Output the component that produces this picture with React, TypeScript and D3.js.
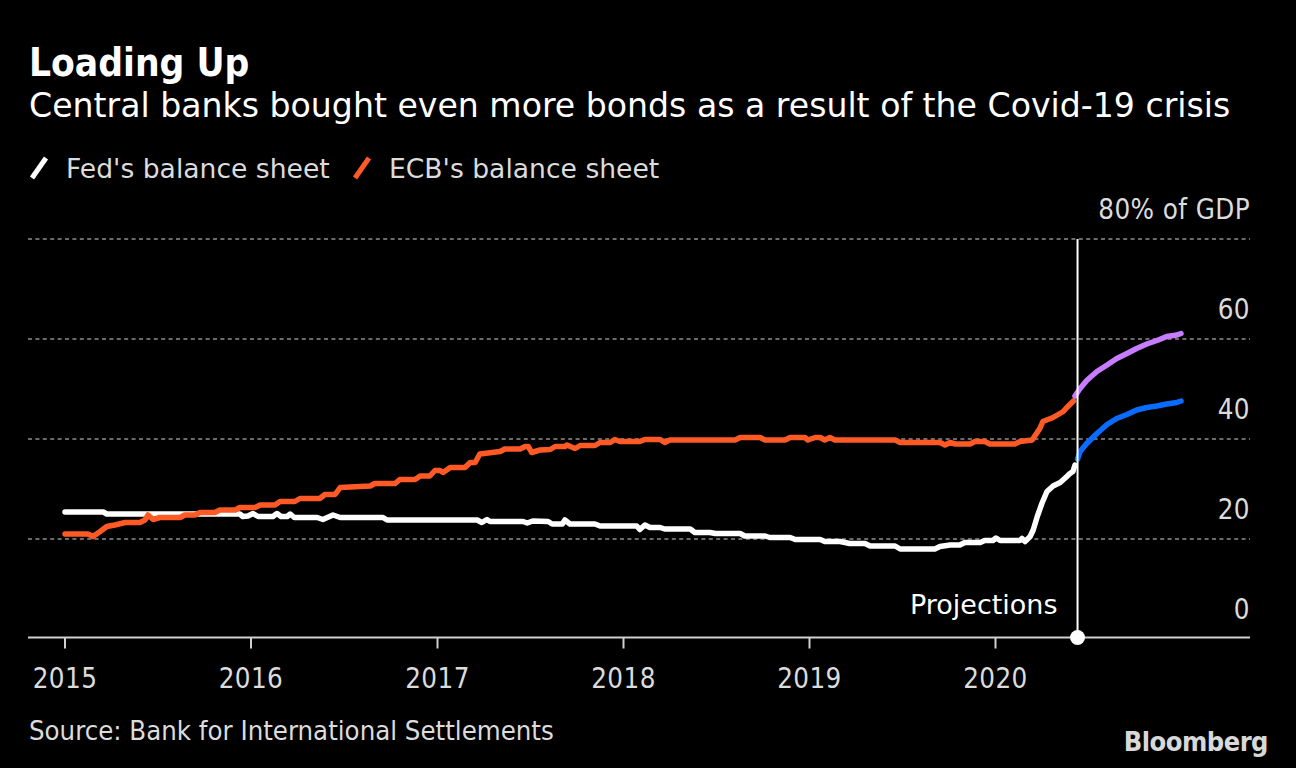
import React from "react";
import * as d3 from "d3";

const W = 1296;
const H = 768;

const titleText = "Loading Up";
const subtitleText = "Central banks bought even more bonds as a result of the Covid-19 crisis";
const sourceText = "Source: Bank for International Settlements";
const legendLabels = ["Fed's balance sheet", "ECB's balance sheet"];
const yTicks = [0, 20, 40, 60, 80];
const yTickLabels = ["0", "20", "40", "60", "80% of GDP"];
const xTickYears = ["2015", "2016", "2017", "2018", "2019", "2020"];
const projectionDate = "2020-06-10";

const fedDates = [
  "2015-01-01", "2015-03-17", "2015-03-24", "2015-12-10", "2015-12-16", "2015-12-26", "2016-01-05", "2016-01-15",
  "2016-02-13", "2016-02-21", "2016-02-29", "2016-03-12", "2016-03-18", "2016-03-26", "2016-05-10", "2016-05-21",
  "2016-06-10", "2016-06-24", "2016-09-16", "2016-09-24", "2017-03-20", "2017-03-29", "2017-04-08", "2017-04-14",
  "2017-06-18", "2017-06-26", "2017-07-07", "2017-08-06", "2017-08-14", "2017-09-03", "2017-09-08", "2017-09-18",
  "2017-11-06", "2017-11-16", "2018-01-27", "2018-02-02", "2018-02-12", "2018-02-22", "2018-03-14", "2018-03-23",
  "2018-05-12", "2018-05-21", "2018-06-20", "2018-06-30", "2018-08-18", "2018-08-27", "2018-10-06", "2018-10-15",
  "2018-11-24", "2018-12-04", "2019-01-22", "2019-01-31", "2019-03-02", "2019-03-21", "2019-04-20", "2019-04-30",
  "2019-06-18", "2019-06-28", "2019-09-04", "2019-09-14", "2019-10-04", "2019-10-23", "2019-11-02", "2019-12-02",
  "2019-12-11", "2019-12-27", "2020-01-02", "2020-01-10", "2020-02-18", "2020-02-22", "2020-02-28", "2020-03-09",
  "2020-03-15", "2020-03-23", "2020-04-01", "2020-04-11", "2020-04-23", "2020-05-07", "2020-05-20", "2020-05-26",
  "2020-06-01", "2020-06-05",
];
const fedValues = [
  25.4, 25.4, 25.0, 25.0, 24.5, 24.6, 25.1, 24.5,
  24.5, 25.1, 24.5, 24.5, 25.0, 24.3, 24.3, 23.9,
  24.8, 24.3, 24.3, 23.8, 23.8, 23.3, 23.9, 23.5,
  23.5, 23.2, 23.6, 23.5, 23.0, 23.0, 23.8, 23.0,
  23.0, 22.6, 22.6, 21.9, 22.8, 22.3, 22.3, 22.0,
  22.0, 21.3, 21.3, 21.1, 21.1, 20.6, 20.6, 20.3,
  20.3, 19.9, 19.9, 19.5, 19.5, 19.1, 19.1, 18.6,
  18.6, 18.0, 18.0, 18.5, 18.8, 18.8, 19.3, 19.3,
  19.7, 19.7, 20.2, 19.7, 19.7, 20.1, 19.5, 20.5,
  21.8, 24.5, 27.1, 29.5, 30.6, 31.3, 32.5, 33.1,
  33.5, 34.8,
];

const ecbDates = [
  "2015-01-01", "2015-02-15", "2015-02-25", "2015-03-11", "2015-03-24", "2015-04-09", "2015-04-29", "2015-05-28",
  "2015-06-07", "2015-06-13", "2015-06-23", "2015-07-06", "2015-08-15", "2015-08-24", "2015-09-13", "2015-09-23",
  "2015-10-22", "2015-11-01", "2015-12-01", "2015-12-10", "2016-01-09", "2016-01-19", "2016-02-17", "2016-02-27",
  "2016-03-27", "2016-04-06", "2016-05-15", "2016-05-25", "2016-06-14", "2016-06-24", "2016-08-22", "2016-08-31",
  "2016-10-10", "2016-10-19", "2016-11-18", "2016-11-28", "2016-12-17", "2016-12-27", "2017-01-06", "2017-01-12",
  "2017-01-26", "2017-02-24", "2017-03-06", "2017-03-16", "2017-03-25", "2017-05-04", "2017-05-13", "2017-06-12",
  "2017-06-22", "2017-06-28", "2017-07-05", "2017-07-21", "2017-08-10", "2017-08-20", "2017-09-08", "2017-09-12",
  "2017-09-28", "2017-10-08", "2017-11-06", "2017-11-16", "2017-12-06", "2017-12-15", "2017-12-25", "2018-02-02",
  "2018-02-12", "2018-03-14", "2018-03-23", "2018-04-02", "2018-08-08", "2018-08-18", "2018-09-26", "2018-10-06",
  "2018-11-14", "2018-11-24", "2018-12-23", "2018-12-29", "2019-01-12", "2019-01-22", "2019-01-31", "2019-02-10",
  "2019-02-20", "2019-06-18", "2019-06-28", "2019-09-14", "2019-09-24", "2019-10-04", "2019-10-14", "2019-11-12",
  "2019-11-22", "2019-12-11", "2019-12-21", "2019-12-31", "2020-02-08", "2020-02-18", "2020-03-13", "2020-03-28",
  "2020-04-03", "2020-04-23", "2020-05-13", "2020-05-20", "2020-06-02",
];
const ecbValues = [
  21.0, 21.0, 20.5, 21.5, 22.5, 22.8, 23.3, 23.3,
  23.8, 24.8, 23.9, 24.3, 24.3, 24.8, 24.8, 25.3,
  25.3, 25.8, 25.8, 26.3, 26.3, 26.8, 26.8, 27.5,
  27.5, 28.1, 28.1, 28.9, 28.9, 30.3, 30.6, 31.1,
  31.1, 31.9, 31.9, 32.6, 32.6, 33.7, 33.7, 33.3,
  34.3, 34.3, 35.3, 35.3, 37.0, 37.5, 38.0, 38.0,
  38.5, 38.5, 37.3, 37.8, 37.9, 38.5, 38.5, 38.8,
  38.1, 38.7, 38.7, 39.3, 39.3, 39.9, 39.5, 39.5,
  39.9, 39.9, 39.3, 39.8, 39.8, 40.3, 40.3, 39.8,
  39.8, 40.3, 40.3, 39.8, 40.3, 40.3, 39.8, 40.3,
  39.8, 39.8, 39.3, 39.3, 38.8, 39.3, 39.0, 39.0,
  39.5, 39.5, 39.0, 39.0, 39.0, 39.5, 39.8, 42.1,
  43.5, 44.3, 45.5, 46.3, 47.6,
];

const projDates = [
  "2020-06-15", "2020-06-28", "2020-07-18", "2020-08-07", "2020-08-26", "2020-09-15",
  "2020-10-04", "2020-10-24", "2020-11-13", "2020-12-02", "2020-12-22", "2020-12-30",
];
const fedProjStartDate = "2020-06-10";
const fedProjStartValue = 36.0;
const fedProjValues = [37.5, 39.1, 41.1, 42.9, 44.1, 44.9, 45.8, 46.3, 46.6, 47.0, 47.3, 47.6];
const ecbProjStartDate = "2020-06-05";
const ecbProjStartValue = 48.6;
const ecbProjValues = [50.1, 51.7, 53.5, 54.8, 56.1, 57.1, 58.1, 59.0, 59.7, 60.5, 60.8, 61.1];

const COLORS = {
  bg: "#000000",
  fed: "#ffffff",
  ecb: "#ff5a26",
  fedProj: "#0a6cff",
  ecbProj: "#c87cff",
  grid: "#6b6b6b",
  axis: "#d0d0d0",
  text: "#dcdcdc",
};

const FONT_C = "'DejaVu Sans Condensed', 'DejaVu Sans', sans-serif";
const FONT_R = "'DejaVu Sans', sans-serif";

type Pt = { date: Date; value: number };
const parse = d3.timeParse("%Y-%m-%d");
const zip = (ds: string[], vs: number[]): Pt[] => ds.map((d, i) => ({ date: parse(d) as Date, value: vs[i] }));

export default function App() {
  const x = d3
    .scaleTime()
    .domain([parse("2015-01-01") as Date, parse("2021-01-01") as Date])
    .range([65, 1182]);
  const y = d3.scaleLinear().domain([0, 80]).range([639, 239]);

  const line = d3
    .line<Pt>()
    .x((d) => x(d.date))
    .y((d) => y(d.value));

  const fed = zip(fedDates, fedValues);
  const ecb = zip(ecbDates, ecbValues);
  const fedProj = [{ date: parse(fedProjStartDate) as Date, value: fedProjStartValue }, ...zip(projDates, fedProjValues)];
  const ecbProj = [{ date: parse(ecbProjStartDate) as Date, value: ecbProjStartValue }, ...zip(projDates, ecbProjValues)];

  const axisY = y(0) - 1.5;
  const gridX0 = 28;
  const gridX1 = 1250;
  const px = x(parse(projectionDate) as Date);

  const series = [
    { data: fed, color: COLORS.fed },
    { data: ecb, color: COLORS.ecb },
    { data: fedProj, color: COLORS.fedProj },
    { data: ecbProj, color: COLORS.ecbProj },
  ];

  return (
    <svg
      width={W}
      height={H}
      style={{ position: "absolute", left: 0, top: 0, display: "block" }}
      fontFamily={FONT_C}
    >
      <rect x={0} y={0} width={W} height={H} fill={COLORS.bg} />
      <text x={29} y={76} fill="#ffffff" fontSize={38.5} fontWeight="bold">
        {titleText}
      </text>
      <text x={29} y={117} fill="#ffffff" fontSize={33.15} fontFamily={FONT_R}>
        {subtitleText}
      </text>

      {/* legend */}
      {legendLabels.map((lab, i) => {
        const lx = i === 0 ? 30 : 353;
        const color = i === 0 ? COLORS.fed : COLORS.ecb;
        return (
          <g key={lab}>
            <line x1={lx + 2} y1={178} x2={lx + 16} y2={158} stroke={color} strokeWidth={5} strokeLinecap="butt" />
            <text x={lx + 36} y={178} fill={COLORS.text} fontSize={26.6} fontFamily={FONT_R}>
              {lab}
            </text>
          </g>
        );
      })}

      {/* gridlines */}
      {yTicks
        .filter((t) => t > 0)
        .map((t) => (
          <line
            key={t}
            x1={gridX0}
            x2={gridX1}
            y1={y(t)}
            y2={y(t)}
            stroke={COLORS.grid}
            strokeWidth={2}
            strokeDasharray="4,3.4"
          />
        ))}
      {yTicks.map((t, i) => (
        <text key={t} x={gridX1} y={y(t) - 20} fill={COLORS.text} fontSize={27.5} textAnchor="end" letterSpacing={0.4}>
          {yTickLabels[i]}
        </text>
      ))}

      {/* axis */}
      <line x1={gridX0} x2={gridX1} y1={axisY} y2={axisY} stroke={COLORS.axis} strokeWidth={2} />
      {xTickYears.map((yr) => {
        const tx = x(parse(`${yr}-01-01`) as Date);
        return (
          <g key={yr}>
            <line x1={tx} x2={tx} y1={axisY} y2={axisY + 11} stroke={COLORS.axis} strokeWidth={2} />
            <text x={tx} y={688} fill={COLORS.text} fontSize={27.5} textAnchor="middle" letterSpacing={0.4}>
              {yr}
            </text>
          </g>
        );
      })}

      {/* series */}
      {series.map((s, i) => (
        <path
          key={i}
          d={line(s.data) || ""}
          fill="none"
          stroke={s.color}
          strokeWidth={5.5}
          strokeLinejoin="round"
          strokeLinecap="round"
        />
      ))}

      {/* projection marker */}
      <line x1={px} x2={px} y1={y(80)} y2={axisY} stroke="#ffffff" strokeWidth={2} />
      <circle cx={px} cy={axisY} r={7.5} fill="#ffffff" />
      <text x={px - 20} y={614} fill="#ffffff" fontSize={27} textAnchor="end" fontFamily={FONT_R}>
        Projections
      </text>

      {/* footer */}
      <text x={29} y={740} fill={COLORS.text} fontSize={27.3}>
        {sourceText}
      </text>
      <text x={1268} y={751} fill="#d8d8d8" fontSize={27} fontWeight="bold" textAnchor="end" letterSpacing={-0.5}>
        Bloomberg
      </text>
    </svg>
  );
}
